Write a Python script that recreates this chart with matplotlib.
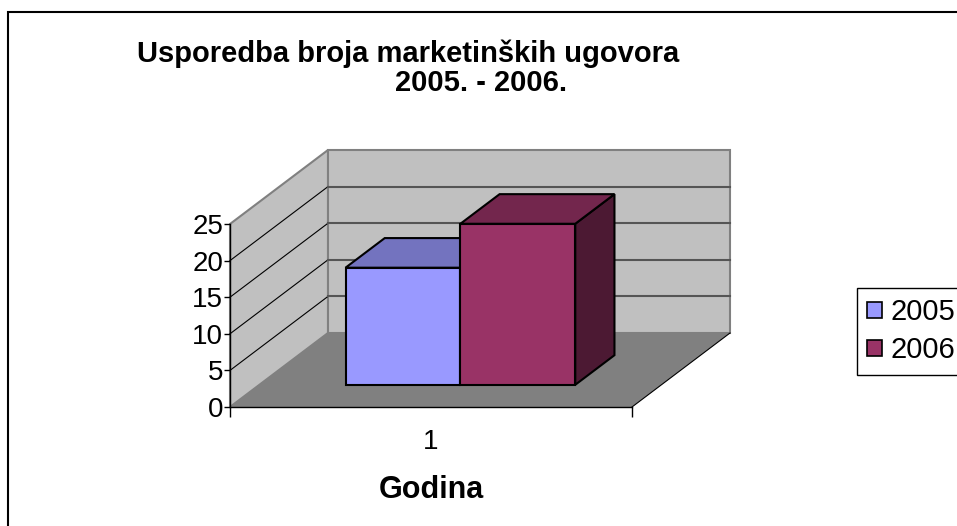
import matplotlib
matplotlib.use('Agg')
import matplotlib.pyplot as plt
from matplotlib.patches import Polygon, Rectangle, Patch

# chart data
categories = ['1']
series_names = ['2005', '2006']
series_values = [16, 22]
y_ticks = [0, 5, 10, 15, 20, 25]

title_line1 = 'Usporedba broja marketinških ugovora'
title_line2 = '2005. - 2006.'
x_title = 'Godina'

# Excel-like 3D styling
front_colors = ['#9999FF', '#993366']
top_colors = ['#7373BF', '#73264D']
side_colors = ['#5C5C99', '#4C1933']
wall_color = '#C0C0C0'
floor_color = '#808080'
gap_width = 1.5
gap_depth = 1.5

plt.rcParams['font.family'] = ['Liberation Sans', 'DejaVu Sans']

W, H = 957, 526
fig = plt.figure(figsize=(W / 100, H / 100), dpi=100)

# front plane of the plot (pixels)
ax_left, ax_bottom, ax_w, ax_h = 230, 407, 402, 183
ax = fig.add_axes([ax_left / W, 1 - ax_bottom / H, ax_w / W, ax_h / H])
ax.patch.set_visible(False)
n = len(categories)
ymax = y_ticks[-1]
ax.set_xlim(0, n)
ax.set_ylim(0, ymax)

# oblique depth offset, converted from pixels to data units
depth_px = (98, 74)
ddx = depth_px[0] / ax_w * n
ddy = depth_px[1] / ax_h * ymax


def pt(x, y, d):
    return (x + d * ddx, y + d * ddy)


def face(points, color, edge, lw, z):
    ax.add_patch(Polygon(points, closed=True, facecolor=color, edgecolor=edge,
                         linewidth=lw, clip_on=False, zorder=z, joinstyle='miter'))


# walls and floor
face([pt(0, 0, 0), pt(0, ymax, 0), pt(0, ymax, 1), pt(0, 0, 1)], wall_color, '#808080', 1.5, 1)
face([pt(0, 0, 1), pt(n, 0, 1), pt(n, ymax, 1), pt(0, ymax, 1)], wall_color, '#808080', 1.5, 1)
face([pt(0, 0, 0), pt(n, 0, 0), pt(n, 0, 1), pt(0, 0, 1)], floor_color, 'none', 0, 1.5)

for v in y_ticks[1:-1]:
    p0, p1 = pt(0, v, 0), pt(0, v, 1)
    ax.plot([p0[0], p1[0]], [p0[1], p1[1]], color='black', lw=0.8, clip_on=False, zorder=2)
    p0, p1 = pt(0, v, 1), pt(n, v, 1)
    ax.plot([p0[0], p1[0]], [p0[1], p1[1]], color='#555555', lw=1.5, clip_on=False, zorder=2)

p0, p1 = pt(n, 0, 0), pt(n, 0, 1)
ax.plot([p0[0], p1[0]], [p0[1], p1[1]], color='black', lw=0.8, clip_on=False, zorder=2)

# bars
nser = len(series_values)
w = 1 / (nser + gap_width)
d0 = (1 - 1 / (1 + gap_depth)) / 2
d1 = 1 - d0
for i in range(n):
    start = i + gap_width * w / 2
    for j, v in enumerate(series_values):
        x0 = start + j * w
        x1 = x0 + w
        z = 3 + j
        face([pt(x1, 0, d0), pt(x1, 0, d1), pt(x1, v, d1), pt(x1, v, d0)], side_colors[j], 'black', 1.5, z)
        face([pt(x0, 0, d0), pt(x1, 0, d0), pt(x1, v, d0), pt(x0, v, d0)], front_colors[j], 'black', 1.5, z)
        face([pt(x0, v, d0), pt(x1, v, d0), pt(x1, v, d1), pt(x0, v, d1)], top_colors[j], 'black', 1.5, z)

# axes, ticks, labels
for s in ['top', 'right']:
    ax.spines[s].set_visible(False)
for s in ['left', 'bottom']:
    ax.spines[s].set_linewidth(1.0)
    ax.spines[s].set_zorder(2.5)
ax.set_yticks(y_ticks)
ax.tick_params(axis='y', direction='out', length=4, width=1, labelsize=20, pad=1)
ax.set_xticks(range(n + 1))
ax.set_xticklabels([''] * (n + 1))
ax.tick_params(axis='x', which='major', direction='out', length=7, width=1)
ax.set_xticks([i + 0.5 for i in range(n)], labels=categories, minor=True)
ax.tick_params(axis='x', which='minor', length=0, labelsize=20, pad=16)
ax.set_xlabel(x_title, fontsize=22, fontweight='bold', labelpad=14)

# title
fig.text(137 / W, 1 - 62 / H, title_line1, ha='left', va='baseline', fontsize=21, fontweight='bold')
fig.text(567 / W, 1 - 91 / H, title_line2, ha='right', va='baseline', fontsize=21, fontweight='bold')

# chart border
fig.patches.append(Rectangle((8 / W, -0.1), 1.2, 1 - 12 / H + 0.1, transform=fig.transFigure,
                             fill=False, edgecolor='black', linewidth=1.5))

# legend, frame runs past the right edge like the source
handles = [Patch(facecolor=c, edgecolor='black', linewidth=1.2) for c in front_colors]
leg = fig.legend(handles, series_names, loc='upper left', bbox_to_anchor=(857 / W, 1 - 288 / H),
                 frameon=True, fancybox=False, edgecolor='black', framealpha=1, fontsize=21,
                 handlelength=0.5, handleheight=0.5, handletextpad=0.3, borderpad=0.35,
                 labelspacing=0.35, borderaxespad=0)
leg.get_frame().set_linewidth(1.0)

fig.savefig('out.png', dpi=100)
